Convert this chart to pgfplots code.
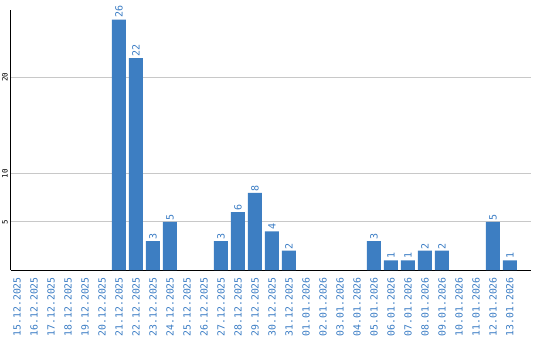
\documentclass[border=0pt]{standalone}
\usepackage{pgfplots}
\pgfplotsset{compat=1.18}
\usepackage{fontspec}
\setmainfont{DejaVu Sans}
\newfontfamily\monofont{DejaVu Sans Mono}
\definecolor{barblue}{RGB}{61,126,194}
\definecolor{labblue}{RGB}{58,124,196}
\definecolor{gridgray}{RGB}{200,200,200}
\begin{document}
\begin{tikzpicture}
\path[use as bounding box] (0,0) rectangle (540pt,340pt);
\begin{axis}[
  at={(11pt,70pt)}, anchor=south west,
  scale only axis, width=520pt, height=260pt,
  xmin=-0.353, xmax=30.24, ymin=0, ymax=27,
  axis x line*=bottom, axis y line*=left,
  axis line style={black, line width=1pt, -},
  xtick={0,...,29},
  xticklabels={15.12.2025,16.12.2025,17.12.2025,18.12.2025,19.12.2025,20.12.2025,21.12.2025,22.12.2025,23.12.2025,24.12.2025,25.12.2025,26.12.2025,27.12.2025,28.12.2025,29.12.2025,30.12.2025,31.12.2025,01.01.2026,02.01.2026,03.01.2026,04.01.2026,05.01.2026,06.01.2026,07.01.2026,08.01.2026,09.01.2026,10.01.2026,11.01.2026,12.01.2026,13.01.2026},
  ytick={5,10,20},
  major tick length=0pt,
  ymajorgrids, grid style={gridgray, line width=1pt},
  xticklabel style={rotate=90, anchor=east, inner sep=0pt, font=\monofont\fontsize{9.8}{10}\selectfont, text=labblue},
  xticklabel shift=7pt,
  yticklabel style={rotate=90, anchor=south, inner sep=0pt, font=\monofont\fontsize{7.5}{8}\selectfont, text=black},
  yticklabel shift=3pt,
  /pgf/number format/assume math mode=true,
  ybar, bar width=14pt,
  nodes near coords,
  every node near coord/.append style={rotate=90, anchor=west, inner sep=1.5pt, font=\monofont\fontsize{10}{10}\selectfont, text=labblue},
  clip=false,
]
\addplot[fill=barblue, draw=none] coordinates {
 (6,26) (7,22) (8,3) (9,5) (12,3) (13,6) (14,8) (15,4) (16,2)
 (21,3) (22,1) (23,1) (24,2) (25,2) (28,5) (29,1)
};
\end{axis}
\end{tikzpicture}
\end{document}
